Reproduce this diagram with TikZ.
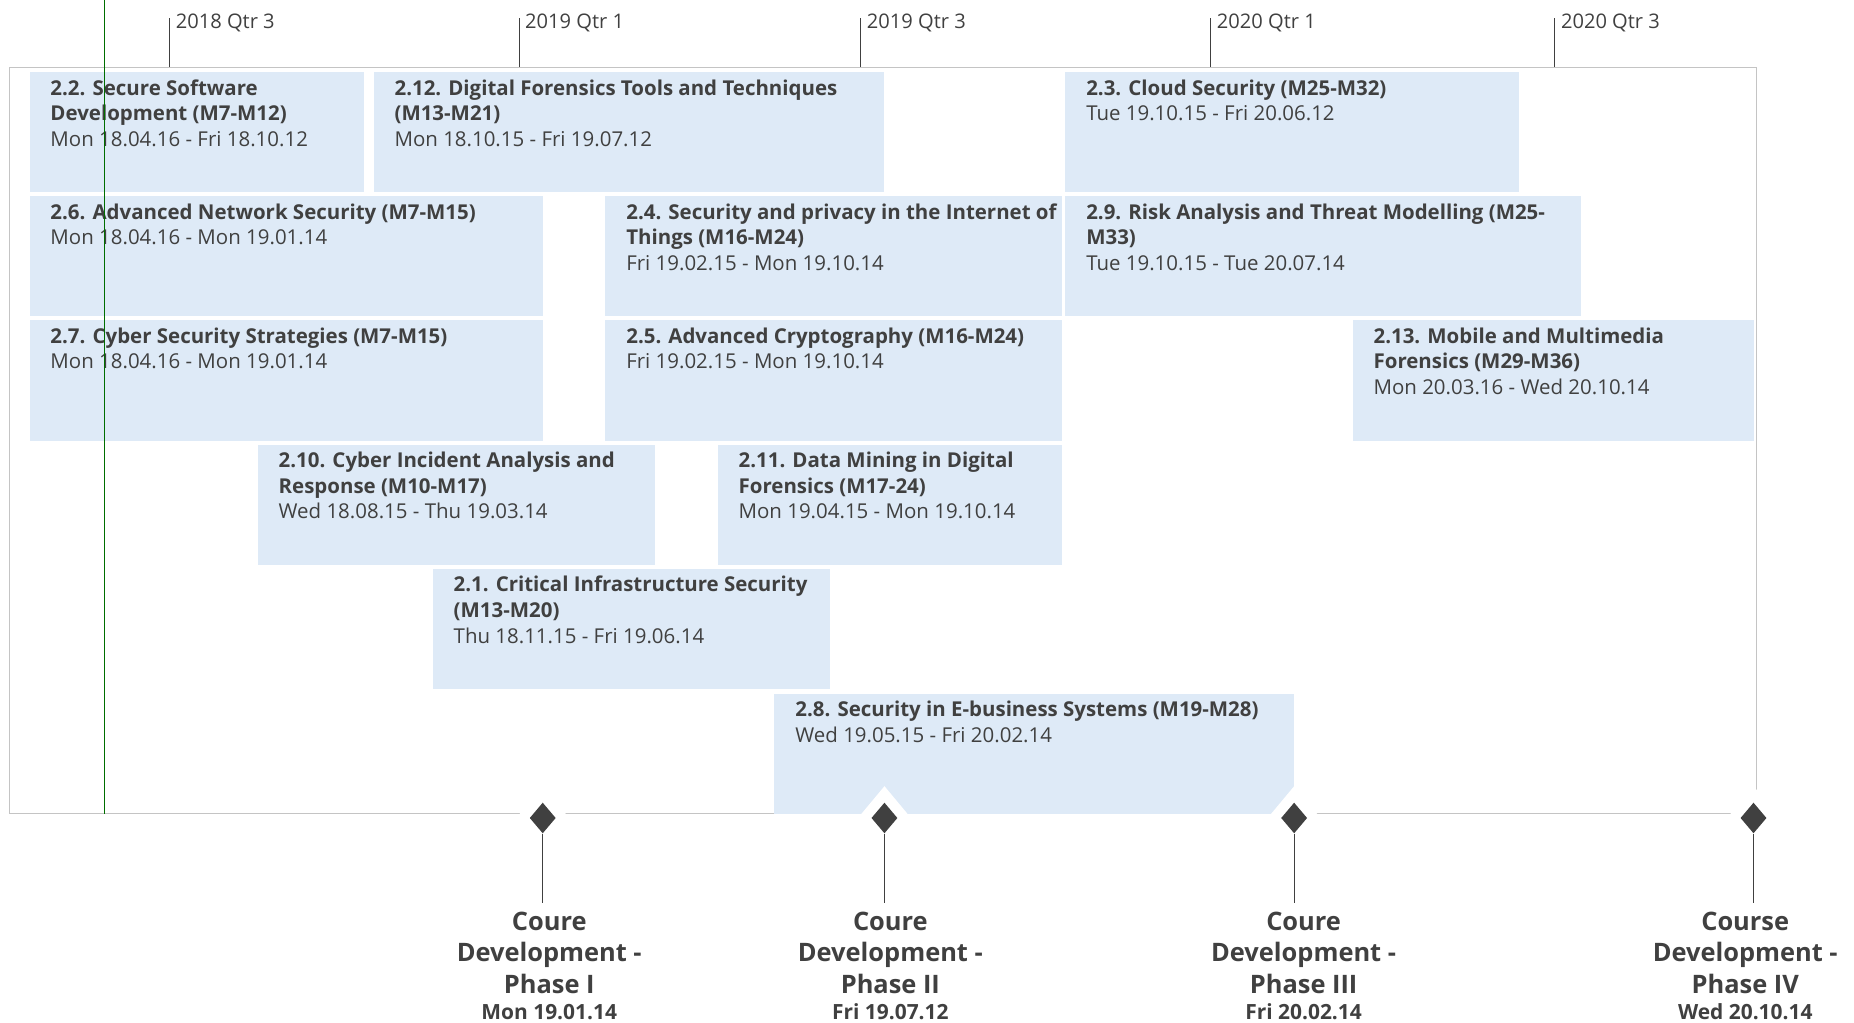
\documentclass[tikz,border=0pt]{standalone}
\usepackage{fontspec}
\setmainfont{Open Sans}
\usetikzlibrary{shapes.geometric}
\definecolor{barblue}{RGB}{222,234,247}
\definecolor{inkgray}{RGB}{64,64,64}
\definecolor{framegray}{RGB}{196,196,196}
\definecolor{todaygreen}{RGB}{0,110,0}
\begin{document}
\begin{tikzpicture}[x=1pt,y=-1pt,
    bar/.style={fill=barblue},
    bartext/.style={anchor=north west,inner sep=0pt,align=left,text=inkgray,
      font=\fontsize{17.3}{21.7}\selectfont},
    tick/.style={inkgray,line width=0.7pt},
    ticklabel/.style={anchor=base west,inner sep=0pt,text=inkgray,
      font=\fontsize{17}{20}\selectfont},
    halo/.style={diamond,fill=white,inner sep=0pt,minimum width=45,minimum height=54},
    milestone/.style={diamond,fill=inkgray,inner sep=0pt,minimum width=22,minimum height=26},
    stem/.style={inkgray,line width=0.6pt},
    mslabel/.style={anchor=north,align=center,text=inkgray,inner xsep=0pt,inner ysep=7pt,
      font=\bfseries\fontsize{21.5}{26.8}\selectfont}]
  \useasboundingbox (0,0) rectangle (1568,865);
  \draw[tick] (143.4,15.5) -- (143.4,57);
  \draw[tick] (439,15.5) -- (439,57);
  \draw[tick] (728,15.5) -- (728,57);
  \draw[tick] (1024,15.5) -- (1024,57);
  \draw[tick] (1315,15.5) -- (1315,57);
  \node[ticklabel] (q1) at (148.5,24) {2018 Qtr 3};
  \node[ticklabel] (q2) at (444,24) {2019 Qtr 1};
  \node[ticklabel] (q3) at (733,24) {2019 Qtr 3};
  \node[ticklabel] (q4) at (1029,24) {2020 Qtr 1};
  \node[ticklabel] (q5) at (1320,24) {2020 Qtr 3};
  \draw[framegray,line width=0.8pt] (8,688) -- (8,57) -- (1485.5,57) -- (1485.5,688);
  \draw[framegray,line width=0.8pt] (8,688) -- (1485.5,688);

  \fill[bar] (25,61) rectangle (308,162.5);
  \fill[bar] (316,61) rectangle (748,162.5);
  \fill[bar] (901,61) rectangle (1285,162.5);
  \fill[bar] (25,166) rectangle (459,267.5);
  \fill[bar] (512,166) rectangle (898,267.5);
  \fill[bar] (901,166) rectangle (1337.5,267.5);
  \fill[bar] (25,271) rectangle (459,373);
  \fill[bar] (512,271) rectangle (898,373);
  \fill[bar] (1144,271) rectangle (1483.5,373);
  \fill[bar] (218,376) rectangle (554,478);
  \fill[bar] (607,376) rectangle (898,478);
  \fill[bar] (366,481) rectangle (702,583);
  \fill[bar] (655,587) rectangle (1094,688);

  \node[bartext] (t22) at (42.5,67) {\textbf{2.2. Secure Software}\\\textbf{Development (M7-M12)}\\Mon 18.04.16 - Fri 18.10.12};
  \node[bartext] (t212) at (333.5,67) {\textbf{2.12. Digital Forensics Tools and Techniques}\\\textbf{(M13-M21)}\\Mon 18.10.15 - Fri 19.07.12};
  \node[bartext] (t23) at (918.5,67) {\textbf{2.3. Cloud Security (M25-M32)}\\Tue 19.10.15 - Fri 20.06.12};
  \node[bartext] (t26) at (42.5,172) {\textbf{2.6. Advanced Network Security (M7-M15)}\\Mon 18.04.16 - Mon 19.01.14};
  \node[bartext] (t24) at (529.5,172) {\textbf{2.4. Security and privacy in the Internet of}\\\textbf{Things (M16-M24)}\\Fri 19.02.15 - Mon 19.10.14};
  \node[bartext] (t29) at (918.5,172) {\textbf{2.9. Risk Analysis and Threat Modelling (M25-}\\\textbf{M33)}\\Tue 19.10.15 - Tue 20.07.14};
  \node[bartext] (t27) at (42.5,277) {\textbf{2.7. Cyber Security Strategies (M7-M15)}\\Mon 18.04.16 - Mon 19.01.14};
  \node[bartext] (t25) at (529.5,277) {\textbf{2.5. Advanced Cryptography (M16-M24)}\\Fri 19.02.15 - Mon 19.10.14};
  \node[bartext] (t213) at (1161.5,277) {\textbf{2.13. Mobile and Multimedia}\\\textbf{Forensics (M29-M36)}\\Mon 20.03.16 - Wed 20.10.14};
  \node[bartext] (t210) at (235.5,382) {\textbf{2.10. Cyber Incident Analysis and}\\\textbf{Response (M10-M17)}\\Wed 18.08.15 - Thu 19.03.14};
  \node[bartext] (t211) at (624.5,382) {\textbf{2.11. Data Mining in Digital}\\\textbf{Forensics (M17-24)}\\Mon 19.04.15 - Mon 19.10.14};
  \node[bartext] (t21) at (383.5,487) {\textbf{2.1. Critical Infrastructure Security}\\\textbf{(M13-M20)}\\Thu 18.11.15 - Fri 19.06.14};
  \node[bartext] (t28) at (672.5,593) {\textbf{2.8. Security in E-business Systems (M19-M28)}\\Wed 19.05.15 - Fri 20.02.14};

  \draw[todaygreen,line width=0.8pt] (88,0) -- (88,688);

  \node[halo] (h1) at (459,691.8) {};
  \node[halo] (h2) at (748,691.8) {};
  \node[halo] (h3) at (1094.5,691.8) {};
  \node[halo] (h4) at (1483,691.8) {};
  \node[milestone] (m1) at (459,691.8) {};
  \node[milestone] (m2) at (748,691.8) {};
  \node[milestone] (m3) at (1094.5,691.8) {};
  \node[milestone] (m4) at (1483,691.8) {};
  \node[mslabel] (l1) at (464.5,764) {Coure\\Development -\\Phase I\\[-5.3pt]{\fontsize{17.7}{21}\selectfont Mon 19.01.14}};
  \node[mslabel] (l2) at (753,764) {Coure\\Development -\\Phase II\\[-5.3pt]{\fontsize{17.7}{21}\selectfont Fri 19.07.12}};
  \node[mslabel] (l3) at (1102.5,764) {Coure\\Development -\\Phase III\\[-5.3pt]{\fontsize{17.7}{21}\selectfont Fri 20.02.14}};
  \node[mslabel] (l4) at (1476,764) {Course\\Development -\\Phase IV\\[-5.3pt]{\fontsize{17.7}{21}\selectfont Wed 20.10.14}};
  \draw[stem] (m1) -- (m1 |- l1.north);
  \draw[stem] (m2) -- (m2 |- l2.north);
  \draw[stem] (m3) -- (m3 |- l3.north);
  \draw[stem] (m4) -- (m4 |- l4.north);
\end{tikzpicture}
\end{document}
